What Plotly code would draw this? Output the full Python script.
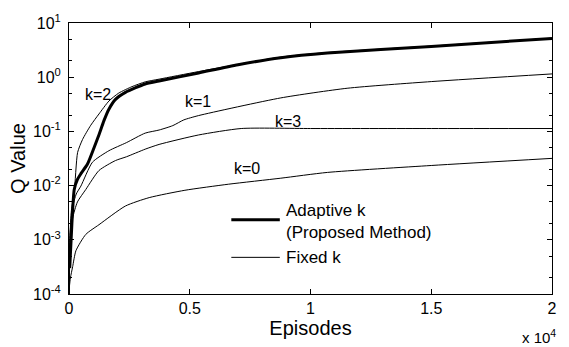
import math
import plotly.graph_objects as go

# ---- data (episodes, Q value) ----
adaptive_x = [30, 120, 217, 350, 492, 766, 1037, 1242, 1447, 1652, 1926, 2336, 3155, 3730, 5369, 7000, 8770, 10697, 15000, 20000]
adaptive_y = [3e-4, 2e-3, 8.5e-3, 0.013, 0.0166, 0.025, 0.05, 0.087, 0.158, 0.257, 0.39, 0.525, 0.75, 0.85, 1.2, 1.7, 2.29, 2.8, 3.7, 5.2]

k2_x = [5, 40, 100, 217, 357, 561, 902, 1242, 1652, 2061, 2610, 3155, 3730, 5369, 8770, 10697, 15000, 20000]
k2_y = [1e-4, 1.2e-3, 3.5e-3, 7.4e-3, 0.041, 0.071, 0.13, 0.21, 0.363, 0.51, 0.67, 0.82, 0.92, 1.27, 2.35, 2.85, 3.75, 5.25]

k1_x = [5, 40, 150, 300, 492, 971, 1652, 2377, 3155, 3730, 4300, 4754, 5369, 8770, 11516, 15000, 20000]
k1_y = [1e-4, 1.2e-3, 4e-3, 7e-3, 0.0098, 0.027, 0.044, 0.062, 0.093, 0.106, 0.128, 0.163, 0.196, 0.415, 0.625, 0.83, 1.15]

k3_x = [5, 50, 150, 350, 697, 1242, 1926, 2377, 3155, 3730, 5369, 7131, 10000, 15000, 20000]
k3_y = [1e-4, 9e-4, 2.5e-3, 5e-3, 8.5e-3, 0.019, 0.029, 0.034, 0.047, 0.0575, 0.086, 0.113, 0.113, 0.113, 0.113]

k0_x = [3, 20, 60, 152, 287, 697, 1242, 2336, 3320, 4800, 6598, 8770, 10697, 15000, 20000]
k0_y = [1e-4, 1.4e-4, 2e-4, 3.2e-4, 6.3e-4, 1.26e-3, 1.9e-3, 4.2e-3, 6.0e-3, 8.2e-3, 0.0106, 0.0137, 0.0175, 0.0235, 0.0318]

x_tickvals = [0, 5000, 10000, 15000, 20000]
x_ticktext = ["0", "0.5", "1", "1.5", "2"]
y_tickvals = [1e-4, 1e-3, 1e-2, 1e-1, 1e0, 1e1]
y_ticktext = ["10<sup>-4</sup>", "10<sup>-3</sup>", "10<sup>-2</sup>", "10<sup>-1</sup>", "10<sup>0</sup>", "10<sup>1</sup>"]

label_text = ["k=2", "k=1", "k=3", "k=0"]
label_x = [1190, 5330, 9060, 7380]
label_y = [0.48, 0.35, 0.153, 0.0206]

FONT = "Liberation Sans, Arial, sans-serif"

fig = go.Figure()
thin = dict(color="black", width=1)
for xs, ys in [(k2_x, k2_y), (k1_x, k1_y), (k3_x, k3_y), (k0_x, k0_y)]:
    fig.add_trace(go.Scatter(x=xs, y=ys, mode="lines", line=dict(shape="spline", smoothing=0.6, **thin), showlegend=False))
fig.add_trace(go.Scatter(x=adaptive_x, y=adaptive_y, mode="lines",
                         line=dict(color="black", width=3, shape="spline", smoothing=0.6), showlegend=False))

for txt, x, y in zip(label_text, label_x, label_y):
    fig.add_annotation(x=x, y=math.log10(y), text=txt, showarrow=False,
                       font=dict(size=16, family=FONT, color="black"))

# legend drawn in paper coordinates
fig.add_shape(type="line", xref="paper", yref="paper", x0=(233-69)/488, x1=(282-69)/488,
              y0=(295-218)/281, y1=(295-218)/281, line=dict(color="black", width=3))
fig.add_shape(type="line", xref="paper", yref="paper", x0=(233-69)/488, x1=(282-69)/488,
              y0=(295-257)/281, y1=(295-257)/281, line=dict(color="black", width=1))
fig.add_annotation(xref="paper", yref="paper", x=(286-69)/488, y=(295-220)/281, xanchor="left", yanchor="middle",
                   text="Adaptive k<br>(Proposed Method)", align="left", showarrow=False,
                   font=dict(size=17, family=FONT, color="black"))
fig.add_annotation(xref="paper", yref="paper", x=(286-69)/488, y=(295-257)/281, xanchor="left", yanchor="middle",
                   text="Fixed k", align="left", showarrow=False,
                   font=dict(size=17, family=FONT, color="black"))
fig.add_annotation(xref="paper", yref="paper", x=1.012, y=-0.2, xanchor="right", yanchor="bottom",
                   text="x 10<sup>4</sup>", showarrow=False, font=dict(size=15, family=FONT, color="black"))

fig.update_layout(
    width=569, height=347, margin=dict(l=69, r=12, t=14, b=52),
    paper_bgcolor="white", plot_bgcolor="white",
    font=dict(family=FONT, size=16, color="black"),
)
fig.update_xaxes(range=[0, 20000], tickvals=x_tickvals, ticktext=x_ticktext,
                 ticks="inside", ticklen=5, tickcolor="black", showline=True, linecolor="black", linewidth=1,
                 mirror="ticks", showgrid=False, zeroline=False,
                 title=dict(text="Episodes", font=dict(size=20), standoff=4))
fig.update_yaxes(type="log", range=[-4, 1], tickvals=y_tickvals, ticktext=y_ticktext,
                 ticks="inside", ticklen=5, tickcolor="black", showline=True, linecolor="black", linewidth=1,
                 mirror="ticks", showgrid=False, zeroline=False,
                 minor=dict(ticks="inside", ticklen=3, tickcolor="black", showgrid=False),
                 ticklabelstandoff=4,
                 title=dict(text="Q Value", font=dict(size=20), standoff=2))

fig.write_html("out.html")
